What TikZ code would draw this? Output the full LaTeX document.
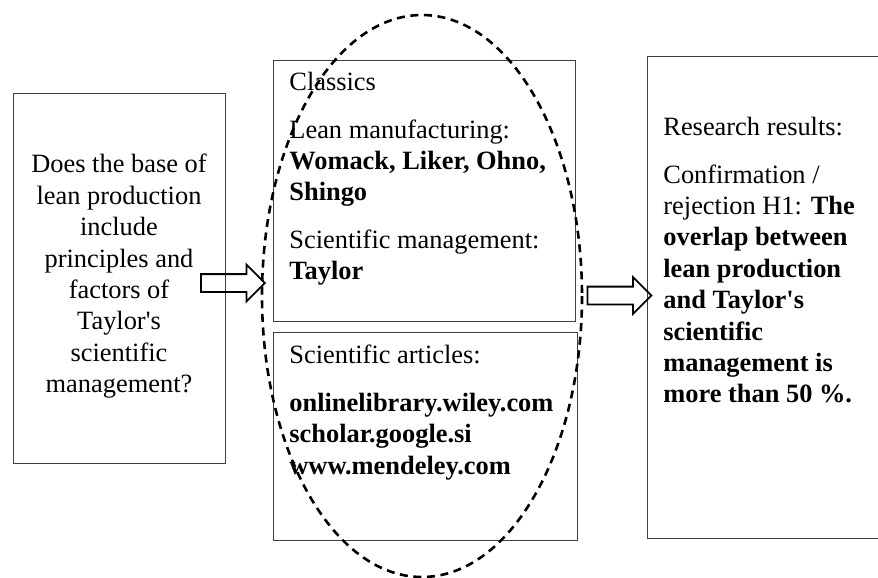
\documentclass[tikz,border=0pt]{standalone}
\usepackage{fontspec}
\setmainfont{Liberation Serif}[Ligatures=TeXOff]
\usetikzlibrary{shapes.arrows}

\begin{document}
\begin{tikzpicture}[x = 0.5pt, y = -0.5pt,
	box/.style = {draw = black!75, line width = 0.6pt, inner sep = 0pt, anchor = north west},
	txt/.style = {inner sep = 0pt, font = \fontsize{13.2}{15.7}\selectfont},
	blockarrow/.style = {draw, line width = 0.9pt, single arrow, single arrow head extend = 4.75pt, inner sep = 4pt, minimum height = 32pt},
	ring/.style = {line width = 1.3pt, dash pattern = on 4pt off 2.8pt}]

\useasboundingbox (0, 0) rectangle (878, 578);
\clip (0, 0) rectangle (878, 578);

\node[box, minimum width = 106pt, minimum height = 185pt] (question) at (13, 93) {};
\node[box, minimum width = 151pt, minimum height = 130.5pt] (classics) at (273, 60) {};
\node[box, minimum width = 152pt, minimum height = 104pt] (articles) at (273, 332) {};
\node[box, minimum width = 130pt, minimum height = 241pt] (results) at (647, 56) {};

\node[txt, anchor = north, align = center] (questionText) at (119, 154) {Does the base of\\ lean production\\ include\\ principles and\\ factors of\\ Taylor's\\ scientific\\ management?};

\node[txt, anchor = north west, align = left] (classicsText) at (289, 72) {Classics\\[8pt] Lean manufacturing:\\ \textbf{Womack, Liker, Ohno,}\\ \textbf{Shingo}\\[8pt] Scientific management:\\ \textbf{Taylor}};

\node[txt, anchor = north west, align = left] (articlesText) at (289, 345) {Scientific articles:\\[8pt] \textbf{onlinelibrary.wiley.com}\\ \textbf{scholar.google.si}\\ \textbf{www.mendeley.com}};

\node[txt, anchor = north west, align = left] (resultsText) at (663, 117) {Research results:\\[8pt] Confirmation /\\ rejection H1: \textbf{The}\\ \textbf{overlap between}\\ \textbf{lean production}\\ \textbf{and Taylor's}\\ \textbf{scientific}\\ \textbf{management is}\\ \textbf{more than 50 \%.}};

\node[blockarrow] (toSources) at (228.5, 283) {};
\node[blockarrow] (toResults) at (615, 295.5) {};

\draw[ring] (422, 296) ellipse [x radius = 160, y radius = 281];

\end{tikzpicture}
\end{document}
